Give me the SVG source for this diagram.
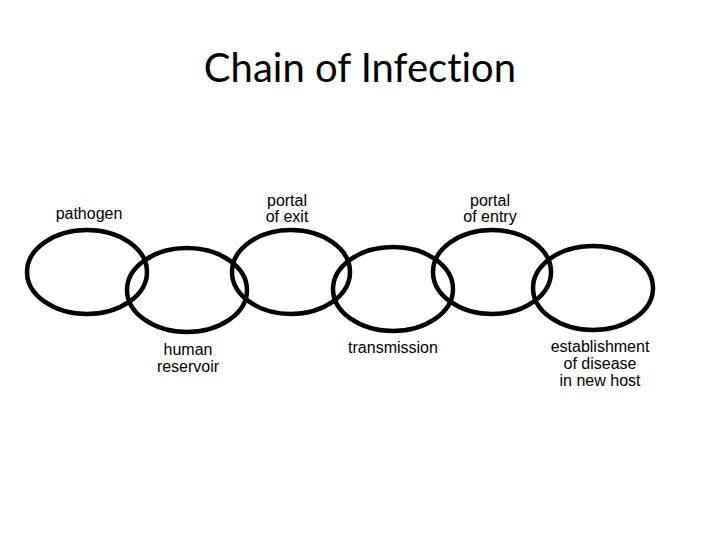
<svg xmlns="http://www.w3.org/2000/svg" width="720" height="540" viewBox="0 0 720 540">
<style>
.link{fill:none;stroke:#000;stroke-width:4.5}
.lbl{font-family:"Liberation Sans",Arial,sans-serif;font-size:16px;fill:#000;text-anchor:middle}
.title{font-family:Lato,"Open Sans",sans-serif;font-size:40px;fill:#000;text-anchor:middle;font-variant-ligatures:none}
</style>
<rect width="720" height="540" fill="#fff"/>
<text class="title" x="360" y="82">Chain of Infection</text>
<g id="connectors"></g>
<g id="pathogen"><ellipse class="link" cx="87" cy="272" rx="60" ry="42"/><text class="lbl" x="89" y="219">pathogen</text></g>
<g id="human-reservoir"><ellipse class="link" cx="187" cy="290" rx="60" ry="42"/><text class="lbl" x="188" y="355">human</text><text class="lbl" x="188" y="372">reservoir</text></g>
<g id="portal-of-exit"><ellipse class="link" cx="291" cy="272" rx="59" ry="42"/><text class="lbl" x="287" y="206">portal</text><text class="lbl" x="287" y="222">of exit</text></g>
<g id="transmission"><ellipse class="link" cx="393" cy="289" rx="60" ry="42"/><text class="lbl" x="393" y="353">transmission</text></g>
<g id="portal-of-entry"><ellipse class="link" cx="492" cy="272" rx="59" ry="42"/><text class="lbl" x="490" y="206">portal</text><text class="lbl" x="490" y="222">of entry</text></g>
<g id="establishment"><ellipse class="link" cx="593" cy="288" rx="60" ry="42"/><text class="lbl" x="600" y="352">establishment</text><text class="lbl" x="600" y="369">of disease</text><text class="lbl" x="600" y="386">in new host</text></g>
</svg>
